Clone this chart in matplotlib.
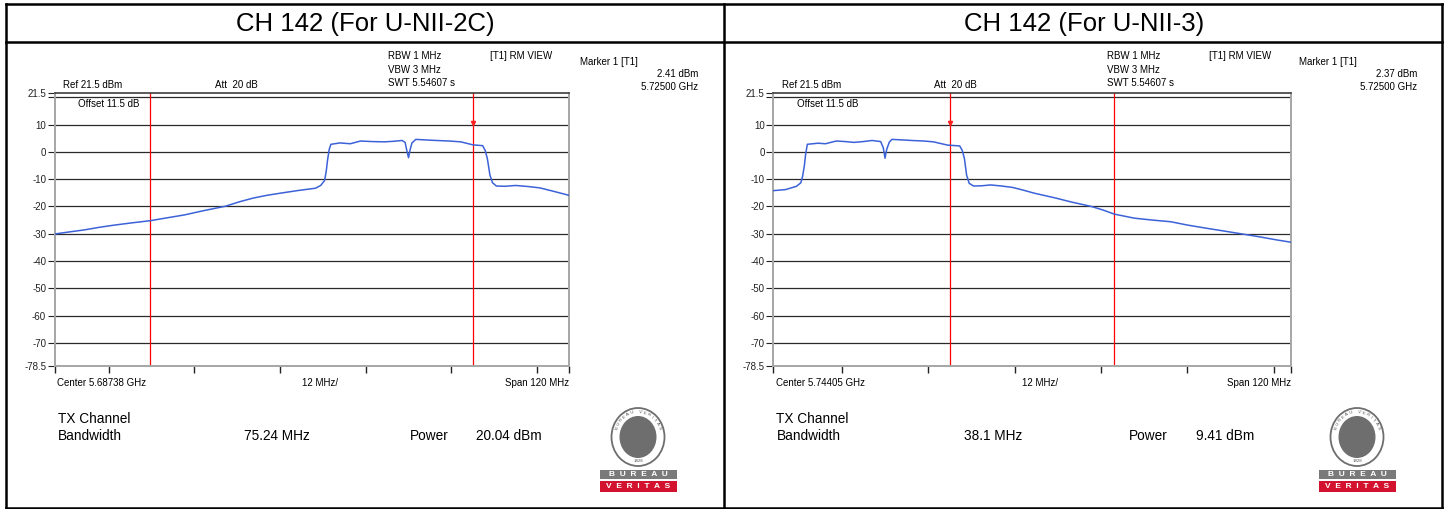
import numpy as np
import matplotlib.pyplot as plt
from matplotlib.patches import Rectangle, Ellipse
from matplotlib.lines import Line2D

plt.rcParams['font.family'] = ['Liberation Sans', 'DejaVu Sans']

W, H = 1449, 509

# ----------------------------------------------------------
# values (MHz / dBm)
# ----------------------------------------------------------
titles = ['CH 142 (For U-NII-2C)', 'CH 142 (For U-NII-3)']
center_ghz = [5.68738, 5.74405]
span_mhz = 120
marker_lvl = ['2.41 dBm', '2.37 dBm']
marker_freq = ['5.72500 GHz', '5.72500 GHz']
bw_txt = ['75.24 MHz', '38.1 MHz']
pwr_txt = ['20.04 dBm', '9.41 dBm']
chan_lines = [[5649.76, 5725.0], [5725.0, 5763.1]]
marker_mhz = 5725.0
ytick_vals = [21.5, 20, 10, 0, -10, -20, -30, -40, -50, -60, -70, -78.5]
ytick_labels = ['21.5', '', '10', '0', '-10', '-20', '-30', '-40', '-50', '-60', '-70', '-78.5']
grid_vals = [20, 10, 0, -10, -20, -30, -40, -50, -60, -70]

freq_2c = [5627.4, 5631, 5634.3, 5638, 5641.5, 5645.5, 5649.8, 5653.5, 5657.7, 5662,
           5667.3, 5670.5, 5673.8, 5677, 5680.2, 5684, 5688.3, 5689.5, 5690.4, 5690.8,
           5691.1, 5691.5, 5691.9, 5694, 5696.4, 5698.8, 5701.5, 5704.4, 5706.5, 5708.5,
           5709.2, 5709.6, 5710.0, 5710.4, 5710.8, 5711.7, 5714, 5716.5, 5719.5, 5722.2,
           5725, 5727.3, 5727.9, 5728.4, 5729, 5729.6, 5730.5, 5732.5, 5735, 5738,
           5740.7, 5744, 5747.4]
level_2c = [-30.1, -29.3, -28.6, -27.6, -26.8, -26.0, -25.2, -24.2, -23.1, -21.6,
            -19.9, -18.3, -16.9, -15.9, -15.1, -14.2, -13.3, -12.3, -10.5, -7.0,
            -3.0, 1.0, 2.8, 3.3, 3.0, 4.0, 3.8, 3.7, 3.9, 4.2,
            3.5, 0.5, -2.1, 1.0, 3.3, 4.6, 4.4, 4.2, 4.0, 3.7,
            2.6, 2.3, 0.5, -2.5, -8.5, -11.3, -12.5, -12.6, -12.3, -12.7,
            -13.2, -14.5, -15.9]

freq_3 = [5684.1, 5687, 5689.5, 5690.5, 5690.9, 5691.3, 5691.6, 5692, 5694.5, 5696.2,
          5698.7, 5700.8, 5702.8, 5705, 5707, 5709.0, 5709.6, 5710.0, 5710.4, 5711,
          5711.6, 5714, 5716.2, 5719, 5721.2, 5724.5, 5727.3, 5727.9, 5728.4, 5728.9,
          5729.5, 5730.5, 5732.5, 5734.5, 5737, 5739.5, 5742, 5744.5, 5747, 5749.5,
          5753, 5757.8, 5760.5, 5763.1, 5767.8, 5772, 5776.2, 5780, 5784.5, 5788.5,
          5792.8, 5797, 5800.5, 5804]
level_3 = [-14.2, -13.8, -12.6, -11.3, -9.0, -5.2, -1.0, 2.8, 3.2, 3.0,
           4.0, 3.8, 3.5, 3.8, 4.2, 3.8, 1.5, -2.3, 1.0, 3.6,
           4.6, 4.4, 4.2, 4.0, 3.7, 2.5, 2.2, 0.5, -2.5, -8.5,
           -11.5, -12.5, -12.4, -12.1, -12.5, -13.0, -14.0, -15.1, -16.0, -16.9,
           -18.3, -20.0, -21.3, -22.8, -24.3, -25.0, -25.6, -26.8, -28.0, -29.0,
           -30.1, -31.2, -32.2, -33.1]

traces = [(freq_2c, level_2c), (freq_3, level_3)]

# pixel layout of each panel (left edge of plot, right edge) and text offset
PLOT_X = [(54.5, 568.7), (773.0, 1291.0)]
OFFS = [0, 719]
PLOT_TOP, PLOT_BOT = 93.3, 366.0

TRACE_C = '#3c62d8'
SMALL = 7.0
BIG = 9.8

fig = plt.figure(figsize=(W / 100, H / 100), dpi=100)


def txt(x, y, s, **kw):
    kw.setdefault('va', 'center')
    fig.text(x / W, 1 - y / H, s, **kw)


def hline(x1, x2, y, lw=1.8):
    fig.add_artist(Line2D([x1 / W, x2 / W], [1 - y / H, 1 - y / H],
                          transform=fig.transFigure, color='black', lw=lw))


def vline(x, y1, y2, lw=1.8):
    fig.add_artist(Line2D([x / W, x / W], [1 - y1 / H, 1 - y2 / H],
                          transform=fig.transFigure, color='black', lw=lw))


# table frame
hline(5.5, 1442, 3.5)
hline(5.5, 1442, 42)
hline(5.5, 1442, 507.5)
vline(5.5, 3.5, 507.5)
vline(1442, 3.5, 507.5)
vline(724, 3.5, 507.5)


def draw_logo(x0, y0):
    lg = fig.add_axes([x0 / W, 1 - (y0 + 90) / H, 82 / W, 90 / H])
    lg.set_xlim(0, 82)
    lg.set_ylim(90, 0)
    lg.axis('off')
    lg.add_patch(Ellipse((40, 33), 53, 58, facecolor='white', edgecolor='#6e6e6e', lw=1.3))
    lg.add_patch(Ellipse((40, 33), 37, 42, facecolor='#6e6e6e', edgecolor='none'))
    ring = 'BUREAU VERITAS'
    angs = np.linspace(160, 20, len(ring))
    for ch, a in zip(ring, angs):
        r = np.deg2rad(a)
        lg.text(40 + 22.5 * np.cos(r), 33 - 25 * np.sin(r), ch, fontsize=3.2,
                color='#555555', ha='center', va='center', rotation=a - 90)
    lg.text(40, 57, '1828', fontsize=3.2, color='#555555', ha='center', va='center')
    lg.add_patch(Rectangle((2, 66), 77, 9, facecolor='#7a7a7a', edgecolor='none'))
    lg.add_patch(Rectangle((2, 76.5), 77, 11, facecolor='#d2122e', edgecolor='none'))
    lg.text(40.5, 70.5, 'B  U  R  E  A  U', fontsize=6, color='white', fontweight='bold',
            ha='center', va='center')
    lg.text(40.5, 82, 'V  E  R  I  T  A  S', fontsize=6, color='white', fontweight='bold',
            ha='center', va='center')


for i in range(2):
    o = OFFS[i]
    xl, xr = PLOT_X[i]
    f0 = center_ghz[i] * 1000 - span_mhz / 2
    f1 = center_ghz[i] * 1000 + span_mhz / 2

    # panel title
    txt(365 + o, 24, titles[i], fontsize=18.5, ha='center')

    ax = fig.add_axes([xl / W, 1 - PLOT_BOT / H, (xr - xl) / W, (PLOT_BOT - PLOT_TOP) / H])
    ax.set_xlim(f0, f1)
    ax.set_ylim(-78.5, 21.5)
    for g in grid_vals:
        ax.axhline(g, color='#2a2a2a', lw=0.9, zorder=1)
    for fl in chan_lines[i]:
        ax.axvline(fl, color='#ff0000', lw=0.9, zorder=2)
    ax.plot(traces[i][0], traces[i][1], color=TRACE_C, lw=1.1, zorder=3)
    ax.plot([marker_mhz], [10.5], marker='v', ms=3, color='#ff2020', zorder=4)

    ax.set_yticks(ytick_vals)
    ax.set_yticklabels(ytick_labels, fontsize=SMALL)
    xt = [f0] + list(range(int(np.ceil(f0 / 20) * 20), int(f1) + 1, 20)) + [f1]
    ax.set_xticks(xt)
    ax.set_xticklabels([])
    ax.tick_params(axis='y', direction='out', length=5, width=0.8, pad=1, colors='#222222')
    ax.tick_params(axis='x', direction='out', length=5, width=1.0, pad=0, colors='#222222')
    for side in ['left', 'right', 'bottom']:
        ax.spines[side].set_color('#a6a6a6')
        ax.spines[side].set_linewidth(1.4)
    ax.spines['top'].set_color('#404040')
    ax.spines['top'].set_linewidth(1.2)

    # analyser annotation texts
    txt(388 + o, 56, 'RBW 1 MHz', fontsize=SMALL)
    txt(388 + o, 70, 'VBW 3 MHz', fontsize=SMALL)
    txt(388 + o, 83.5, 'SWT 5.54607 s', fontsize=SMALL)
    txt(490 + o, 56, '[T1] RM VIEW', fontsize=SMALL)
    txt(580 + o, 62, 'Marker 1 [T1]', fontsize=SMALL)
    txt(698 + o, 74, marker_lvl[i], fontsize=SMALL, ha='right')
    txt(698 + o, 87, marker_freq[i], fontsize=SMALL, ha='right')
    txt(63 + o, 84.5, 'Ref 21.5 dBm', fontsize=SMALL)
    txt(215 + o, 84.5, 'Att  20 dB', fontsize=SMALL)
    txt(78 + o, 104, 'Offset 11.5 dB', fontsize=SMALL)

    txt(xl + 2.5, 383, 'Center %.5f GHz' % center_ghz[i], fontsize=SMALL)
    txt((xl + xr) / 2 + 8, 383, '%d MHz/' % (span_mhz // 10), fontsize=SMALL, ha='center')
    txt(xr, 383, 'Span %d MHz' % span_mhz, fontsize=SMALL, ha='right')

    # channel power results
    txt(57.5 + o, 419, 'TX Channel', fontsize=BIG)
    txt(57.5 + o, 436, 'Bandwidth', fontsize=BIG)
    txt(244.5 + o, 436, bw_txt[i], fontsize=BIG)
    txt(410 + o, 436, 'Power', fontsize=BIG)
    txt(476.5 + o, 436, pwr_txt[i], fontsize=BIG)

    draw_logo(598 + o, 404)

plt.savefig('out.png', dpi=100)
